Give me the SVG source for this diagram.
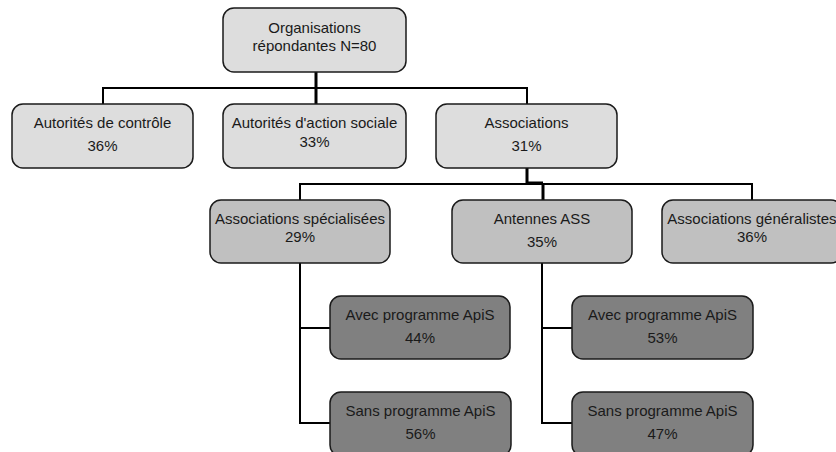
<svg xmlns="http://www.w3.org/2000/svg" width="836" height="452" viewBox="0 0 836 452">
<style>
.n rect{stroke:#1a1a1a;stroke-width:1.5;}
.l0 rect{fill:#dddddd;}
.l2 rect{fill:#c0c0c0;}
.l3 rect{fill:#808080;}
text{font-family:"Liberation Sans",Arial,sans-serif;font-size:15px;fill:#1a1a1a;text-anchor:middle;}
.c{stroke:#000;stroke-width:2;fill:none;}
.t{stroke:#000;stroke-width:3;fill:none;}
</style>
<rect width="836" height="452" fill="#fff"/>
<g id="connectors">
<path class="t" d="M316 72V104"/>
<path class="c" d="M103 104V88H527V104"/>
<path class="t" d="M527 168V183H543"/>
<path class="c" d="M300 200V184H752V200"/>
<path class="t" d="M543 184V200"/>
<path class="c" d="M300 263V423H330M300 328H330"/>
<path class="c" d="M542 263V423H572M542 328H572"/>
</g>
<g id="root" class="n l0"><rect x="223" y="8" width="183" height="64" rx="11"/><text x="314.5" y="33">Organisations</text><text x="314.5" y="51">répondantes N=80</text></g>
<g id="controle" class="n l0"><rect x="12" y="104" width="181" height="64" rx="11"/><text x="102.5" y="128">Autorités de contrôle</text><text x="102.5" y="151">36%</text></g>
<g id="action-sociale" class="n l0"><rect x="223" y="104" width="183" height="64" rx="11"/><text x="314.5" y="128">Autorités d'action sociale</text><text x="314.5" y="147">33%</text></g>
<g id="associations" class="n l0"><rect x="436" y="104" width="181" height="64" rx="11"/><text x="526.5" y="128">Associations</text><text x="526.5" y="151">31%</text></g>
<g id="specialisees" class="n l2"><rect x="210" y="200" width="180" height="63" rx="11"/><text x="300" y="224">Associations spécialisées</text><text x="300" y="242">29%</text></g>
<g id="antennes" class="n l2"><rect x="452" y="200" width="180" height="63" rx="11"/><text x="542" y="224">Antennes ASS</text><text x="542" y="247">35%</text></g>
<g id="generalistes" class="n l2"><rect x="662" y="200" width="180" height="63" rx="11"/><text x="752" y="224">Associations généralistes</text><text x="752" y="242">36%</text></g>
<g id="spec-avec" class="n l3"><rect x="330" y="296" width="180" height="63" rx="11"/><text x="420" y="320">Avec programme ApiS</text><text x="420" y="343">44%</text></g>
<g id="spec-sans" class="n l3"><rect x="330" y="392" width="181" height="64" rx="11"/><text x="420.5" y="416">Sans programme ApiS</text><text x="420.5" y="439">56%</text></g>
<g id="ant-avec" class="n l3"><rect x="572" y="296" width="181" height="63" rx="11"/><text x="662.5" y="320">Avec programme ApiS</text><text x="662.5" y="343">53%</text></g>
<g id="ant-sans" class="n l3"><rect x="572" y="392" width="181" height="64" rx="11"/><text x="662.5" y="416">Sans programme ApiS</text><text x="662.5" y="439">47%</text></g>
</svg>
